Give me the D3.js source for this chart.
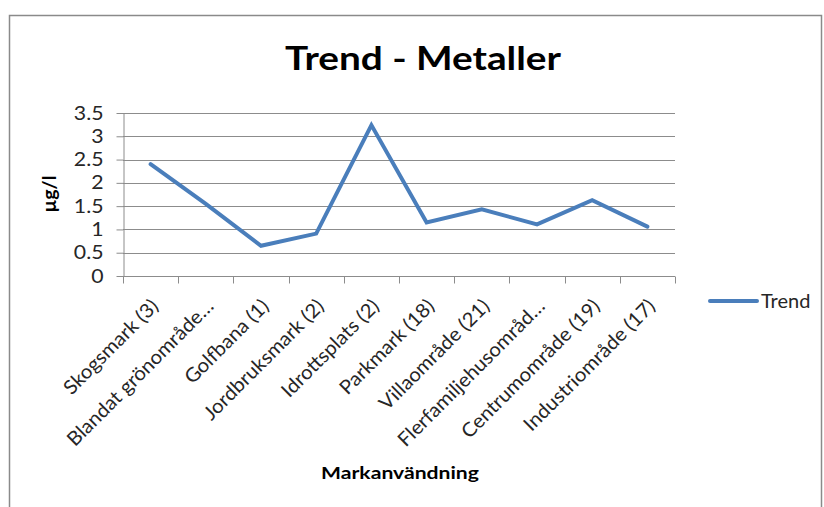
<!DOCTYPE html>
<html>
<head>
<meta charset="utf-8">
<script src="https://cdn.jsdelivr.net/npm/d3@7"></script>
<style>
  html, body { margin: 0; padding: 0; background: #fff; }
  svg { display: block; font-family: Lato, "Open Sans", sans-serif; }
</style>
</head>
<body>
<svg id="chart" width="824" height="507"></svg>
<script>
// Land-use categories (sample counts in parentheses)
const categories = [
  "Skogsmark (3)",
  "Blandat grönområde…",
  "Golfbana (1)",
  "Jordbruksmark (2)",
  "Idrottsplats (2)",
  "Parkmark (18)",
  "Villaområde (21)",
  "Flerfamiljehusområd…",
  "Centrumområde (19)",
  "Industriområde (17)"
];
// Metal trend values, µg/l
const trendValues = [2.40, 1.55, 0.65, 0.91, 3.24, 1.15, 1.43, 1.11, 1.63, 1.06];
const yTicks = [0, 0.5, 1, 1.5, 2, 2.5, 3, 3.5];

const svg = d3.select("#chart");
const plot = { left: 123, right: 675, top: 113, bottom: 276 };
const lineColor = "#4a7ebb";
const gridColor = "#8c8c8c";
const textColor = "#262626";

// Stretch a text element along its baseline so it spans `len` pixels.
function stretchFactor(sel, len) {
  const w = sel.node().getComputedTextLength();
  return w > 0 ? len / w : 1;
}

// Outer frame
svg.append("rect")
  .attr("x", 9.5).attr("y", 15.5)
  .attr("width", 812).attr("height", 500)
  .attr("fill", "#fff").attr("stroke", "#8a8a8a").attr("stroke-width", 1.5);

const x = d3.scaleBand().domain(categories).range([plot.left, plot.right]);
const y = d3.scaleLinear().domain([0, 3.5]).range([plot.bottom, plot.top]);

// Horizontal gridlines
svg.append("g")
  .selectAll("line")
  .data(yTicks)
  .join("line")
  .attr("x1", plot.left).attr("x2", plot.right)
  .attr("y1", d => Math.round(y(d)) + 0.5).attr("y2", d => Math.round(y(d)) + 0.5)
  .attr("stroke", gridColor).attr("stroke-width", 1);

// Y axis
const yAxis = svg.append("g")
  .attr("transform", `translate(${plot.left + 0.5},0)`)
  .call(d3.axisLeft(y).tickValues(yTicks).tickSize(7).tickSizeOuter(0).tickFormat(d3.format("~g")));
yAxis.select(".domain").attr("stroke", gridColor);
yAxis.selectAll(".tick line").attr("stroke", gridColor);
yAxis.selectAll(".tick text")
  .attr("font-size", 19).attr("fill", textColor)
  .attr("font-family", "Lato, 'Open Sans', sans-serif")
  .attr("x", 0)
  .attr("transform", "translate(-20,0) scale(1.12,1)");

// X axis with tick marks between categories
const xAxis = svg.append("g")
  .attr("transform", `translate(0,${Math.round(plot.bottom) + 0.5})`);
xAxis.append("line")
  .attr("x1", plot.left).attr("x2", plot.right)
  .attr("stroke", gridColor);
const boundaries = categories.map(c => x(c)).concat([plot.right]);
xAxis.selectAll("line.tk")
  .data(boundaries)
  .join("line")
  .attr("class", "tk")
  .attr("x1", d => Math.round(d) + 0.5).attr("x2", d => Math.round(d) + 0.5)
  .attr("y1", 0).attr("y2", 7)
  .attr("stroke", gridColor);
xAxis.selectAll("text")
  .data(categories)
  .join("text")
  .attr("transform", d => `translate(${x(d) + x.bandwidth() / 2 + 9},${31}) rotate(-45) scale(1.05,1)`)
  .attr("text-anchor", "end")
  .attr("font-size", 19.5)
  .attr("fill", textColor)
  .text(d => d);

// Trend line
const line = d3.line()
  .x((d, i) => x(categories[i]) + x.bandwidth() / 2)
  .y(d => y(d));
svg.append("path")
  .datum(trendValues)
  .attr("d", line)
  .attr("fill", "none")
  .attr("stroke", lineColor)
  .attr("stroke-width", 4)
  .attr("stroke-linejoin", "miter")
  .attr("stroke-linecap", "round");

// Title
const title = svg.append("text")
  .attr("text-anchor", "middle")
  .attr("font-size", 32).attr("font-weight", "bold")
  .attr("fill", "#000")
  .text("Trend - Metaller");
title.attr("transform", `translate(423,70) scale(${stretchFactor(title, 276)},1)`);

// Axis titles
const yTitle = svg.append("text")
  .attr("text-anchor", "middle")
  .attr("font-size", 19).attr("font-weight", "bold")
  .attr("fill", "#000")
  .text("µg/l");
yTitle.attr("transform", `translate(56,194) rotate(-90) scale(${stretchFactor(yTitle, 37)},1)`);

const xTitle = svg.append("text")
  .attr("text-anchor", "middle")
  .attr("font-size", 17.5).attr("font-weight", "bold")
  .attr("fill", "#000")
  .text("Markanvändning");
xTitle.attr("transform", `translate(400,479) scale(${stretchFactor(xTitle, 158)},1)`);

// Legend
const legend = svg.append("g").attr("transform", "translate(710,301)");
legend.append("line")
  .attr("x1", 0).attr("x2", 47)
  .attr("stroke", lineColor).attr("stroke-width", 4).attr("stroke-linecap", "round");
legend.append("text")
  .attr("x", 51).attr("y", 7)
  .attr("font-size", 20).attr("fill", textColor)
  .text("Trend");
</script>
</body>
</html>
